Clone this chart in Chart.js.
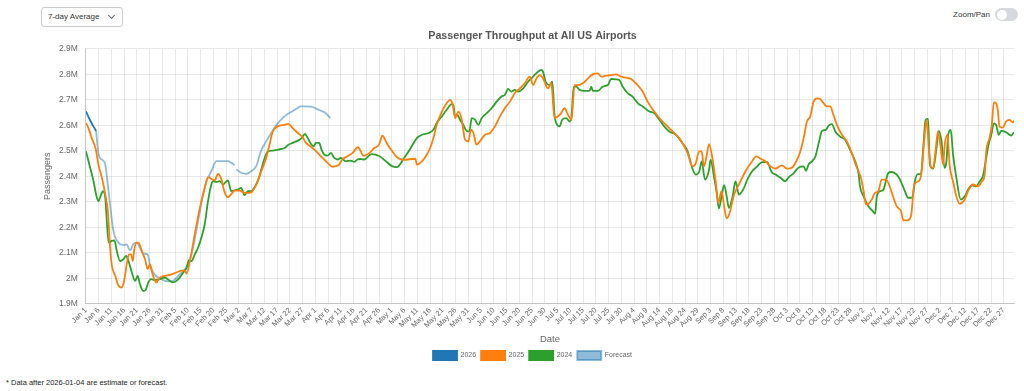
<!DOCTYPE html>
<html lang="en">
<head>
<meta charset="utf-8">
<title>Passenger Throughput</title>
<script src="https://cdn.jsdelivr.net/npm/chart.js@4/dist/chart.umd.min.js"></script>
<style>
  body {
    margin: 0;
    width: 1024px;
    height: 391px;
    position: relative;
    overflow: hidden;
    background: #fff;
    font-family: "Liberation Sans", Arial, sans-serif;
  }
  .selector {
    position: absolute;
    left: 41px;
    top: 7px;
    width: 82px;
    height: 20px;
    box-sizing: border-box;
    border: 1px solid #ccc;
    border-radius: 3px;
    font-size: 8px;
    line-height: 18px;
    color: #333;
    padding-left: 6px;
  }
  .selector .chevron {
    position: absolute;
    right: 8px;
    top: 5px;
    width: 4px;
    height: 4px;
    border-right: 1px solid #666;
    border-bottom: 1px solid #666;
    transform: rotate(45deg);
  }
  .zoom-pan {
    position: absolute;
    right: 6px;
    top: 8px;
    display: flex;
    align-items: center;
    gap: 5px;
    font-size: 8px;
    color: #333;
  }
  .switch {
    width: 23px;
    height: 13px;
    border-radius: 7px;
    background: #d5d8dc;
    position: relative;
  }
  .switch::after {
    content: '';
    position: absolute;
    left: 1.5px;
    top: 1.5px;
    width: 10px;
    height: 10px;
    border-radius: 50%;
    background: #fff;
  }
  .chart-container {
    position: absolute;
    left: 40px;
    top: 26px;
    width: 984px;
    height: 344px;
  }
  .nota {
    position: absolute;
    left: 6px;
    top: 378px;
    font-size: 7.5px;
    color: #222;
  }
</style>
</head>
<body>
<div class="selector">7-day Average<span class="chevron"></span></div>
<div class="zoom-pan"><span>Zoom/Pan</span><span class="switch"></span></div>
<div class="chart-container"><canvas id="graficaPasajeros"></canvas></div>
<div class="nota">* Data after 2026-01-04 are estimate or forecast.</div>

<script>
// ── Datos: [día del año (0 = Jan 1), pasajeros en millones] ────────────────
const serie2026 = [
  [0, 2.655], [1, 2.633], [2, 2.613], [3, 2.595], [4, 2.578]
];

const pronostico = [
  [4, 2.578], [4.9, 2.49], [6.2, 2.466], [7.5, 2.45], [8.9, 2.34], [10.8, 2.186],
  [12.8, 2.14], [14.7, 2.13], [16, 2.133], [17.3, 2.11], [18.6, 2.134], [19.9, 2.14],
  [21.2, 2.12], [22.5, 2.097], [24.2, 2.095], [25.1, 2.055], [26.4, 2.023], [28.4, 2.003],
  [31, 1.99], [33.6, 1.988], [36.8, 2.016], [40.1, 2.055], [42, 2.12], [44, 2.225],
  [46, 2.33], [47.3, 2.38], [49.2, 2.42], [51.2, 2.46], [53.1, 2.46], [55.7, 2.46],
  [57, 2.453], [58.3, 2.444], [58.7, null], [59, 2.427], [60.9, 2.414], [62.9, 2.41],
  [64.8, 2.42], [66.8, 2.44], [68.7, 2.5], [70.7, 2.537], [72.7, 2.57], [74.6, 2.6],
  [77.9, 2.635], [81.8, 2.66], [84.4, 2.674], [88.3, 2.673], [91.5, 2.66], [94.1, 2.648],
  [95.8, 2.628]
];

const serie2025 = [
  [0, 2.609], [1, 2.589], [2.3, 2.55], [3.9, 2.505], [4.9, 2.446], [6.3, 2.394],
  [7.6, 2.329], [8.6, 2.264], [9.5, 2.121], [10.2, 2.049], [11.5, 2.01], [12.8, 1.971],
  [14.1, 1.964], [15.1, 1.997], [16, 2.055], [16.9, 2.094], [17.7, 2.094], [18.4, 2.068],
  [19, 2.114], [19.9, 2.14], [20.6, 2.14], [21.9, 2.108], [23.2, 2.075], [24.2, 2.036],
  [25.1, 2.055], [25.8, 2.03], [26.8, 1.997], [27.7, 1.984], [29, 2.003], [31, 2.01],
  [33.6, 2.016], [35.5, 2.023], [37.5, 2.03], [38.8, 2.03], [39.5, 2.019], [40.8, 2.068],
  [42.7, 2.173], [44.7, 2.277], [46.6, 2.355], [47.9, 2.397], [49.2, 2.39], [50.5, 2.384],
  [51.8, 2.41], [53.1, 2.39], [54.2, 2.344], [55.7, 2.318], [57, 2.33], [58.3, 2.344],
  [60.3, 2.344], [62.2, 2.335], [64.2, 2.335], [65.5, 2.344], [66.8, 2.368], [68.8, 2.42],
  [70.7, 2.472], [72, 2.524], [73.3, 2.576], [75.3, 2.596], [77.9, 2.602], [79.4, 2.606],
  [81.1, 2.589], [83.1, 2.57], [85, 2.553], [86.3, 2.531], [88, 2.518], [89.6, 2.505],
  [90.9, 2.492], [92.8, 2.472], [94.8, 2.453], [96.7, 2.437], [98, 2.44], [99.3, 2.446],
  [100.6, 2.466], [102.6, 2.479], [104.6, 2.492], [106.7, 2.514], [109, 2.48], [111, 2.49],
  [113, 2.51], [115, 2.525], [116.3, 2.56], [118, 2.53], [120, 2.5], [122, 2.475],
  [124.6, 2.465], [129.2, 2.469], [129.8, 2.446], [131.8, 2.459], [133.7, 2.485], [135, 2.511],
  [136.3, 2.55], [137.6, 2.602], [139.6, 2.654], [141.5, 2.687], [142.8, 2.7], [143.9, 2.68],
  [144.8, 2.628], [146.1, 2.654], [147.4, 2.622], [148.7, 2.544], [150, 2.537], [151, 2.583],
  [152, 2.57], [153.2, 2.524], [154.5, 2.537], [156.5, 2.563], [158.5, 2.57], [160.4, 2.596],
  [162.4, 2.635], [164.3, 2.667], [166.3, 2.693], [168.2, 2.726], [170.2, 2.745], [172.1, 2.765],
  [174.1, 2.791], [175.4, 2.758], [176.7, 2.784], [178, 2.797], [179.3, 2.784], [181.2, 2.745],
  [182.5, 2.765], [183.8, 2.628], [185.1, 2.635], [186.4, 2.648], [187.7, 2.667], [189.1, 2.641],
  [190.4, 2.622], [191.7, 2.758], [193, 2.758], [194.9, 2.765], [196.9, 2.784], [198.8, 2.8],
  [200.8, 2.804], [202.1, 2.791], [204, 2.795], [206, 2.797], [207.9, 2.8], [209.9, 2.791],
  [211.8, 2.787], [213.8, 2.782], [215.7, 2.765], [218.4, 2.732], [220.3, 2.693], [222.9, 2.654],
  [225.5, 2.622], [228.1, 2.596], [230.7, 2.57], [232.7, 2.55], [234.3, 2.524], [236, 2.491],
  [237.9, 2.439], [239.2, 2.452], [240.5, 2.498], [241.5, 2.498], [242.4, 2.439], [243.4, 2.478],
  [244.4, 2.526], [245.7, 2.472], [247, 2.38], [248, 2.296], [249.3, 2.342], [250.3, 2.283],
  [251.3, 2.235], [252.5, 2.257], [254.2, 2.328], [256.1, 2.368], [258.7, 2.42], [261.3, 2.459],
  [262.9, 2.478], [264.6, 2.469], [266.5, 2.459], [268.5, 2.439], [270.4, 2.43], [273, 2.443],
  [275, 2.43], [277, 2.435], [278.9, 2.465], [280.2, 2.498], [281.5, 2.55], [282.8, 2.615],
  [284.1, 2.635], [285.4, 2.693], [286.7, 2.706], [288, 2.703], [289.3, 2.687], [290.6, 2.674],
  [291.9, 2.674], [293.2, 2.641], [294.5, 2.602], [296.5, 2.563], [298.4, 2.537], [300.4, 2.491],
  [301.7, 2.452], [303, 2.42], [304, 2.394], [305, 2.342], [305.9, 2.29], [306.9, 2.292],
  [308.2, 2.309], [309.5, 2.335], [310.8, 2.342], [312.1, 2.387], [313.7, 2.387], [315, 2.368],
  [316.7, 2.316], [318, 2.283], [319.7, 2.263], [320.6, 2.227], [321.9, 2.227], [323.6, 2.244],
  [324.9, 2.368], [326.4, 2.38], [327.7, 2.413], [328.8, 2.543], [329.7, 2.621], [330.6, 2.51],
  [331.4, 2.435], [332.3, 2.433], [333.2, 2.498], [334.2, 2.576], [335.3, 2.51], [336.2, 2.446],
  [336.9, 2.53], [337.9, 2.563], [338.8, 2.439], [340.1, 2.38], [341.4, 2.322], [342.7, 2.292],
  [344.4, 2.305], [346, 2.342], [347.9, 2.368], [349.9, 2.361], [351.4, 2.38], [352.5, 2.407],
  [353.1, 2.498], [354.4, 2.55], [355.3, 2.602], [356.1, 2.69], [357, 2.686], [357.7, 2.654],
  [358.3, 2.595], [359.6, 2.591], [360.9, 2.615], [362.2, 2.621], [363.5, 2.612], [364, 2.617]
];

const serie2024 = [
  [0, 2.498], [1.7, 2.433], [3, 2.381], [4, 2.329], [4.9, 2.303], [6, 2.329],
  [6.6, 2.342], [7.6, 2.316], [8.9, 2.14], [10.2, 2.147], [11.2, 2.149], [12.1, 2.108],
  [13.4, 2.068], [14.7, 2.075], [15.8, 2.088], [16.7, 2.068], [18, 2.023], [19.3, 1.99],
  [20.3, 2.01], [21.2, 1.977], [22.5, 1.951], [23.4, 1.954], [24.5, 1.984], [25.5, 1.997],
  [27.1, 1.993], [29, 1.997], [31, 2.003], [32.9, 1.99], [34.2, 1.984], [35.5, 1.99],
  [36.8, 2.003], [38.2, 2.023], [39.5, 2.042], [40.4, 2.071], [41.4, 2.068], [42.7, 2.094],
  [44, 2.12], [45.3, 2.16], [46.6, 2.212], [47.9, 2.303], [49.2, 2.368], [49.9, 2.381],
  [51.2, 2.378], [52.5, 2.381], [53.8, 2.368], [55.1, 2.381], [55.7, 2.384], [57, 2.342],
  [58.3, 2.345], [59.6, 2.348], [60.9, 2.355], [62.2, 2.326], [63.5, 2.342], [64.8, 2.342],
  [66.1, 2.355], [67.4, 2.381], [68.8, 2.427], [70.1, 2.472], [71.4, 2.498], [73.3, 2.501],
  [75.3, 2.505], [77.9, 2.511], [79.4, 2.524], [81.1, 2.531], [83.1, 2.54], [84.6, 2.55],
  [85.9, 2.566], [87, 2.55], [88.3, 2.527], [89.3, 2.518], [90.2, 2.531], [91.5, 2.531],
  [92.4, 2.505], [93.5, 2.485], [94.8, 2.481], [96.1, 2.492], [97.4, 2.472], [98.7, 2.466],
  [100, 2.472], [101.9, 2.459], [103.9, 2.462], [105.2, 2.457], [106.5, 2.466], [107.8, 2.468],
  [109.1, 2.466], [112, 2.487], [115, 2.48], [118, 2.456], [120, 2.44], [122, 2.436],
  [124.6, 2.469], [126.6, 2.498], [128.5, 2.53], [129.8, 2.55], [131.8, 2.563], [134.4, 2.57],
  [136.3, 2.583], [137.6, 2.609], [139.6, 2.635], [141.5, 2.661], [143.5, 2.683], [144.1, 2.68],
  [144.8, 2.635], [145.7, 2.641], [146.7, 2.622], [148, 2.602], [149.3, 2.578], [150.4, 2.576],
  [151.3, 2.628], [152.6, 2.622], [153.9, 2.602], [155.2, 2.628], [157.2, 2.648], [159.1, 2.667],
  [161.1, 2.693], [163, 2.713], [164.3, 2.719], [165.6, 2.743], [166.9, 2.732], [168.2, 2.739],
  [169.5, 2.732], [171.5, 2.745], [173.4, 2.771], [175.4, 2.791], [177.3, 2.81], [178.6, 2.817],
  [179.3, 2.81], [180.3, 2.771], [181.9, 2.758], [182.9, 2.771], [183.8, 2.641], [184.8, 2.602],
  [185.8, 2.596], [186.8, 2.622], [188.4, 2.628], [189.7, 2.615], [190.4, 2.628], [191.3, 2.752],
  [192.3, 2.752], [193.6, 2.739], [195.6, 2.735], [197.5, 2.735], [198.2, 2.752], [198.8, 2.735],
  [200.8, 2.735], [202.7, 2.752], [204.7, 2.758], [206, 2.782], [207.9, 2.78], [209.2, 2.778],
  [210.5, 2.752], [212.5, 2.726], [214.4, 2.713], [216.4, 2.687], [218.4, 2.674], [221, 2.654],
  [222.9, 2.648], [224.9, 2.622], [226.8, 2.596], [228.8, 2.576], [231.4, 2.563], [234, 2.53],
  [236, 2.498], [237.6, 2.439], [239.2, 2.407], [240.5, 2.417], [241.5, 2.459], [242.8, 2.387],
  [244.4, 2.426], [245, 2.465], [246.4, 2.394], [247.3, 2.342], [248.3, 2.274], [249.3, 2.322],
  [250.3, 2.365], [251.3, 2.322], [252.2, 2.276], [253.5, 2.315], [254.8, 2.38], [256.1, 2.328],
  [258.1, 2.355], [259.4, 2.387], [261.3, 2.42], [263.3, 2.439], [265.2, 2.456], [267.2, 2.456],
  [268.9, 2.417], [270.4, 2.407], [272.4, 2.394], [274.3, 2.381], [275.6, 2.396], [277.6, 2.413],
  [279.6, 2.435], [281.5, 2.439], [282.4, 2.422], [283.5, 2.448], [284.8, 2.459], [286.1, 2.478],
  [287.4, 2.53], [288.7, 2.578], [290.2, 2.582], [291.3, 2.599], [292.6, 2.605], [293.9, 2.576],
  [295.8, 2.556], [297.8, 2.543], [299.7, 2.504], [301.7, 2.459], [303, 2.413], [303.6, 2.361],
  [305, 2.322], [306.9, 2.283], [308.9, 2.26], [309.5, 2.253], [310.2, 2.322], [311.5, 2.342],
  [312.8, 2.348], [313.7, 2.38], [314.7, 2.413], [316, 2.417], [318, 2.407], [319.3, 2.387],
  [321.2, 2.342], [322.5, 2.316], [324.1, 2.316], [325.1, 2.38], [326.2, 2.409], [327.5, 2.409],
  [328.4, 2.51], [329.3, 2.621], [330.3, 2.625], [331, 2.446], [332.3, 2.43], [333.6, 2.51],
  [334.5, 2.578], [335.5, 2.543], [336.8, 2.433], [337.5, 2.459], [338.2, 2.563], [339.2, 2.582],
  [340.1, 2.485], [341.4, 2.394], [343.1, 2.309], [344.7, 2.322], [346, 2.348], [347.5, 2.365],
  [349.2, 2.361], [350.5, 2.38], [351.8, 2.4], [353.1, 2.472], [354, 2.524], [355.1, 2.563],
  [356.1, 2.608], [357, 2.602], [358, 2.563], [359, 2.578], [360.9, 2.573], [362.9, 2.56],
  [364, 2.573]
];

// Etiquetas del eje X, una cada 5 días
const etiquetasEje = [
  'Jan 1', 'Jan 6', 'Jan 11', 'Jan 16', 'Jan 21', 'Jan 26', 'Jan 31',
  'Feb 5', 'Feb 10', 'Feb 15', 'Feb 20', 'Feb 25',
  'Mar 2', 'Mar 7', 'Mar 12', 'Mar 17', 'Mar 22', 'Mar 27',
  'Apr 1', 'Apr 6', 'Apr 11', 'Apr 16', 'Apr 21', 'Apr 26',
  'May 1', 'May 6', 'May 11', 'May 16', 'May 21', 'May 26', 'May 31',
  'Jun 5', 'Jun 10', 'Jun 15', 'Jun 20', 'Jun 25', 'Jun 30',
  'Jul 5', 'Jul 10', 'Jul 15', 'Jul 20', 'Jul 25', 'Jul 30',
  'Aug 4', 'Aug 9', 'Aug 14', 'Aug 19', 'Aug 24', 'Aug 29',
  'Sep 3', 'Sep 8', 'Sep 13', 'Sep 18', 'Sep 23', 'Sep 28',
  'Oct 3', 'Oct 8', 'Oct 13', 'Oct 18', 'Oct 23', 'Oct 28',
  'Nov 2', 'Nov 7', 'Nov 12', 'Nov 17', 'Nov 22', 'Nov 27',
  'Dec 2', 'Dec 7', 'Dec 12', 'Dec 17', 'Dec 22', 'Dec 27'
];
const pasoEtiquetas = 5;

// ── Utilidades ──────────────────────────────────────────────────────────────
const aPuntos = serie => serie.map(([x, y]) => ({ x, y }));

function crearDataset(label, serie, color) {
    return {
        label,
        data: aPuntos(serie),
        borderColor: color,
        backgroundColor: color,
        borderWidth: 1.8,
        pointRadius: 0,
        cubicInterpolationMode: 'monotone',
        spanGaps: false,
    };
}

Chart.defaults.font.family = '"Liberation Sans", Arial, sans-serif';
Chart.defaults.color = '#666';

const ctx = document.getElementById('graficaPasajeros').getContext('2d');

new Chart(ctx, {
    type: 'line',
    data: {
        datasets: [
            crearDataset('2026', serie2026, '#1f77b4'),
            crearDataset('2025', serie2025, '#ff7f0e'),
            crearDataset('2024', serie2024, '#2ca02c'),
            crearDataset('Forecast', pronostico, 'rgba(31, 119, 180, 0.5)'),
        ],
    },
    options: {
        responsive: true,
        maintainAspectRatio: false,
        animation: false,
        events: [],
        // el título del eje Y se dibuja dentro del margen izquierdo
        layout: { padding: { left: 11, right: 10 } },
        plugins: {
            title: {
                display: true,
                text: 'Passenger Throughput at All US Airports',
                color: '#555',
                font: { size: 10.7, weight: 'bold' },
                padding: { top: 4, bottom: 6 },
            },
            legend: {
                position: 'bottom',
                labels: {
                    boxWidth: 24,
                    boxHeight: 9,
                    padding: 5,
                    color: '#666',
                    font: { size: 7 },
                },
            },
            tooltip: { enabled: false },
        },
        scales: {
            x: {
                type: 'linear',
                min: 0,
                max: 364,
                afterBuildTicks: eje => {
                    eje.ticks = etiquetasEje.map((_, i) => ({ value: i * pasoEtiquetas }));
                },
                ticks: {
                    autoSkip: false,
                    minRotation: 45,
                    maxRotation: 45,
                    padding: 2,
                    font: { size: 7.5 },
                    callback: (valor, i) => etiquetasEje[i],
                },
                grid: { color: 'rgba(0, 0, 0, 0.09)', drawTicks: false },
                border: { color: 'rgba(0, 0, 0, 0.15)' },
                title: {
                    display: true,
                    text: 'Date',
                    font: { size: 9.5 },
                    color: '#666',
                    padding: { top: 2, bottom: 1 },
                },
            },
            y: {
                min: 1.9,
                max: 2.9,
                ticks: {
                    stepSize: 0.1,
                    padding: 8,
                    font: { size: 8.5 },
                    callback: valor => `${+valor.toFixed(1)}M`,
                },
                grid: { color: 'rgba(0, 0, 0, 0.09)', drawTicks: false },
                border: { color: 'rgba(0, 0, 0, 0.15)' },
                title: {
                    display: true,
                    text: 'Passengers',
                    font: { size: 9 },
                    color: '#666',
                    padding: { top: -8.4, bottom: -2.4 },
                },
            },
        },
    },
});
</script>
</body>
</html>
